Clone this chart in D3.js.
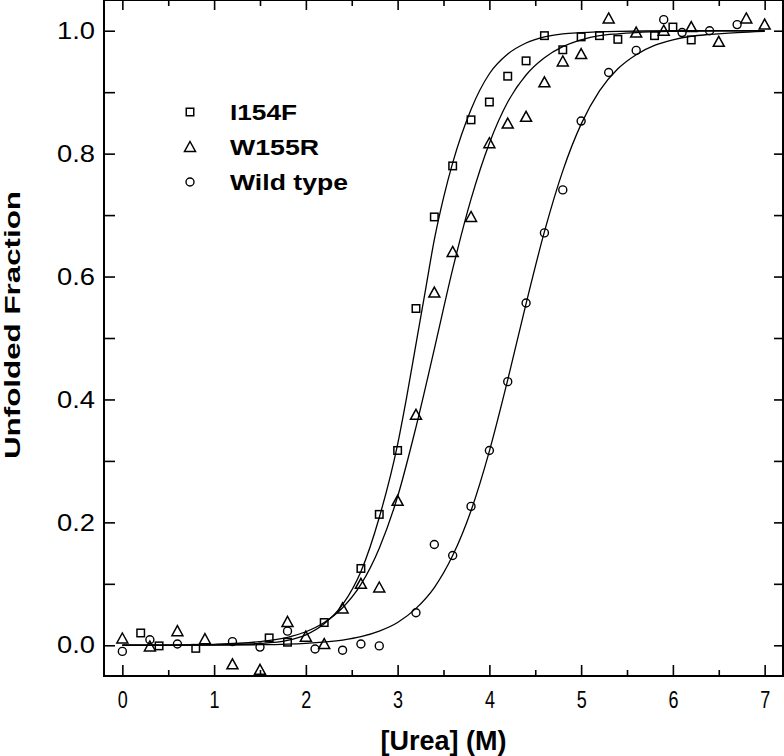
<!DOCTYPE html>
<html><head><meta charset="utf-8">
<script src="https://cdn.jsdelivr.net/npm/d3@7"></script>
<style>body{margin:0;background:#fff} svg{display:block}</style>
</head><body>
<svg id="c" width="784" height="756"></svg>
<script>
// ---- data ----
const seriesNames = ["I154F", "W155R", "Wild type"];

const i154fX = [0.2,0.4,0.8,1.6,1.8,2.2,2.6,2.8,3.0,3.2,3.4,3.6,3.8,4.0,4.2,4.4,4.6,4.8,5.0,5.2,5.4,5.8,6.0,6.2];
const i154fY = [0.02,-0.001,-0.005,0.012,0.005,0.037,0.125,0.213,0.317,0.548,0.697,0.780,0.855,0.884,0.926,0.951,0.992,0.969,0.990,0.992,0.986,0.992,1.006,0.985];

const w155rX = [0,0.3,0.6,0.9,1.2,1.5,1.8,2.0,2.2,2.4,2.6,2.8,3.0,3.2,3.4,3.6,3.8,4.0,4.2,4.4,4.6,4.8,5.0,5.3,5.6,5.9,6.2,6.5,6.8,7.0];
const w155rY = [0.011,-0.002,0.023,0.010,-0.031,-0.040,0.038,0.014,0.002,0.060,0.100,0.094,0.235,0.375,0.574,0.640,0.697,0.817,0.849,0.860,0.916,0.950,0.962,1.020,0.997,1.000,1.006,0.982,1.020,1.010];

const wtX = [0,0.3,0.6,1.2,1.5,1.8,2.1,2.4,2.6,2.8,3.2,3.4,3.6,3.8,4.0,4.2,4.4,4.6,4.8,5.0,5.3,5.6,5.9,6.1,6.4,6.7];
const wtY = [-0.010,0.009,0.002,0.006,-0.003,0.023,-0.006,-0.008,0.002,-0.001,0.053,0.164,0.146,0.226,0.317,0.429,0.557,0.671,0.741,0.853,0.932,0.968,1.018,0.997,1.000,1.010];

// fitted curves
const i154fFitX = [0,0.5,1.0,1.5,1.8,2.0,2.2,2.4,2.6,2.8,3.0,3.1,3.2,3.3,3.4,3.5,3.6,3.8,4.0,4.2,4.4,4.6,4.8,5.0,5.4,6.0,7.0];
const i154fFitY = [0,0.0001,0.0006,0.003,0.008,0.017,0.035,0.066,0.120,0.208,0.327,0.405,0.490,0.575,0.660,0.728,0.785,0.872,0.930,0.962,0.980,0.990,0.995,0.997,0.999,1.0,1.0];

const w155rFitX = [0,0.5,1.0,1.5,1.8,2.0,2.2,2.4,2.6,2.8,3.0,3.2,3.4,3.6,3.8,4.0,4.2,4.4,4.6,4.8,5.0,5.2,5.4,5.6,6.0,6.5,7.0];
const w155rFitY = [0,0.0004,0.0016,0.006,0.013,0.022,0.037,0.061,0.099,0.158,0.242,0.355,0.482,0.612,0.726,0.817,0.884,0.928,0.956,0.974,0.985,0.992,0.995,0.997,0.999,1.0,1.0];

const wtFitX = [0,1.0,1.5,2.0,2.4,2.6,2.8,3.0,3.2,3.4,3.6,3.8,4.0,4.2,4.4,4.6,4.8,5.0,5.2,5.4,5.6,5.8,6.0,6.2,6.4,6.7,7.0];
const wtFitY = [0,0.0003,0.0009,0.0032,0.0085,0.014,0.023,0.037,0.060,0.094,0.146,0.219,0.316,0.432,0.556,0.673,0.772,0.848,0.902,0.938,0.961,0.976,0.985,0.991,0.994,0.997,0.999];

const xMajorTicks = [0,1,2,3,4,5,6,7];
const xMinorTicks = [0.5,1.5,2.5,3.5,4.5,5.5,6.5];
const yMajorTicks = [0.0,0.2,0.4,0.6,0.8,1.0];
const yMinorTicks = [0.1,0.3,0.5,0.7,0.9];
const xTitle = "[Urea] (M)";
const yTitle = "Unfolded Fraction";

// ---- drawing ----
const svg = d3.select("#c");
const L = 104, R = 783, T = 0, B = 676;
const x = d3.scaleLinear().domain([-0.2, 7.2]).range([L, R]);
const y = d3.scaleLinear().domain([-0.05, 1.05]).range([B, T]);

function styleAxis(g){
  g.select(".domain").remove();
  g.selectAll(".tick line").attr("stroke","#000").attr("stroke-width",1.6);
}
// bottom
svg.append("g").attr("transform",`translate(0,${B})`)
  .call(d3.axisBottom(x).tickValues(xMajorTicks).tickSize(-11).tickPadding(16).tickFormat(d3.format("d")))
  .call(styleAxis)
  .call(g=>g.selectAll("text").attr("font-family","Liberation Sans, Arial, sans-serif").attr("font-size",23)
        .attr("fill","#000").attr("textLength",10).attr("lengthAdjust","spacingAndGlyphs"));
svg.append("g").attr("transform",`translate(0,${B})`)
  .call(d3.axisBottom(x).tickValues(xMinorTicks).tickSize(-6).tickFormat(""))
  .call(styleAxis);
// top
svg.append("g").attr("transform",`translate(0,${T})`)
  .call(d3.axisTop(x).tickValues(xMajorTicks).tickSize(-10).tickFormat(""))
  .call(styleAxis);
svg.append("g").attr("transform",`translate(0,${T})`)
  .call(d3.axisTop(x).tickValues(xMinorTicks).tickSize(-6).tickFormat(""))
  .call(styleAxis);
// left
svg.append("g").attr("transform",`translate(${L},0)`)
  .call(d3.axisLeft(y).tickValues(yMajorTicks).tickSize(-11).tickPadding(9).tickFormat(d3.format(".1f")))
  .call(styleAxis)
  .call(g=>g.selectAll("text").attr("font-family","Liberation Sans, Arial, sans-serif").attr("font-size",24)
        .attr("fill","#000").attr("textLength",38).attr("lengthAdjust","spacingAndGlyphs"));
svg.append("g").attr("transform",`translate(${L},0)`)
  .call(d3.axisLeft(y).tickValues(yMinorTicks).tickSize(-11).tickFormat(""))
  .call(styleAxis);
// right
svg.append("g").attr("transform",`translate(${R},0)`)
  .call(d3.axisRight(y).tickValues(yMajorTicks.concat(yMinorTicks)).tickSize(-9).tickFormat(""))
  .call(styleAxis);

// frame
svg.append("rect").attr("x",L).attr("y",T).attr("width",R-L).attr("height",B-T)
  .attr("fill","none").attr("stroke","#000").attr("stroke-width",2);

// fit lines
const line = d3.line().x(d=>x(d[0])).y(d=>y(d[1])).curve(d3.curveMonotoneX);
[[i154fFitX,i154fFitY],[w155rFitX,w155rFitY],[wtFitX,wtFitY]].forEach(([xs,ys])=>{
  svg.append("path").datum(xs.map((v,i)=>[v,ys[i]]))
    .attr("d",line).attr("fill","none").attr("stroke","#000").attr("stroke-width",1.3);
});

// markers
const sq = 7.5;
svg.append("g").selectAll("rect").data(i154fX.map((v,i)=>[v,i154fY[i]])).join("rect")
  .attr("x",d=>x(d[0])-sq/2).attr("y",d=>y(d[1])-sq/2).attr("width",sq).attr("height",sq)
  .attr("fill","none").attr("stroke","#000").attr("stroke-width",1.5);
function tri(cx,cy,w,h){return `M${cx},${cy-h*0.55}L${cx+w/2},${cy+h*0.45}L${cx-w/2},${cy+h*0.45}Z`;}
svg.append("g").selectAll("path").data(w155rX.map((v,i)=>[v,w155rY[i]])).join("path")
  .attr("d",d=>tri(x(d[0]),y(d[1]),11,10))
  .attr("fill","none").attr("stroke","#000").attr("stroke-width",1.5);
svg.append("g").selectAll("circle").data(wtX.map((v,i)=>[v,wtY[i]])).join("circle")
  .attr("cx",d=>x(d[0])).attr("cy",d=>y(d[1])).attr("r",4)
  .attr("fill","none").attr("stroke","#000").attr("stroke-width",1.4);

// legend
const lg = svg.append("g");
const legendTextLen = [67, 89, 118];
const legendY = [112, 147, 182];
lg.append("rect").attr("x",190-sq/2).attr("y",legendY[0]-sq/2).attr("width",sq).attr("height",sq)
  .attr("fill","none").attr("stroke","#000").attr("stroke-width",1.5);
lg.append("path").attr("d",tri(190,legendY[1],11,10)).attr("fill","none").attr("stroke","#000").attr("stroke-width",1.5);
lg.append("circle").attr("cx",190).attr("cy",legendY[2]).attr("r",4).attr("fill","none").attr("stroke","#000").attr("stroke-width",1.4);
seriesNames.forEach((n,i)=>{
  lg.append("text").attr("x",230).attr("y",legendY[i]+8).text(n)
    .attr("font-family","Liberation Sans, Arial, sans-serif").attr("font-weight","bold").attr("font-size",22)
    .attr("textLength",legendTextLen[i]).attr("lengthAdjust","spacingAndGlyphs");
});

// titles
svg.append("text").attr("x",(L+R)/2).attr("y",750).attr("text-anchor","middle").text(xTitle)
  .attr("font-family","Liberation Sans, Arial, sans-serif").attr("font-weight","bold").attr("font-size",27);
svg.append("text").attr("transform","translate(20,325) rotate(-90)").attr("text-anchor","middle").text(yTitle)
  .attr("font-family","Liberation Sans, Arial, sans-serif").attr("font-weight","bold").attr("font-size",22)
  .attr("textLength",268).attr("lengthAdjust","spacingAndGlyphs");
</script></body></html>
